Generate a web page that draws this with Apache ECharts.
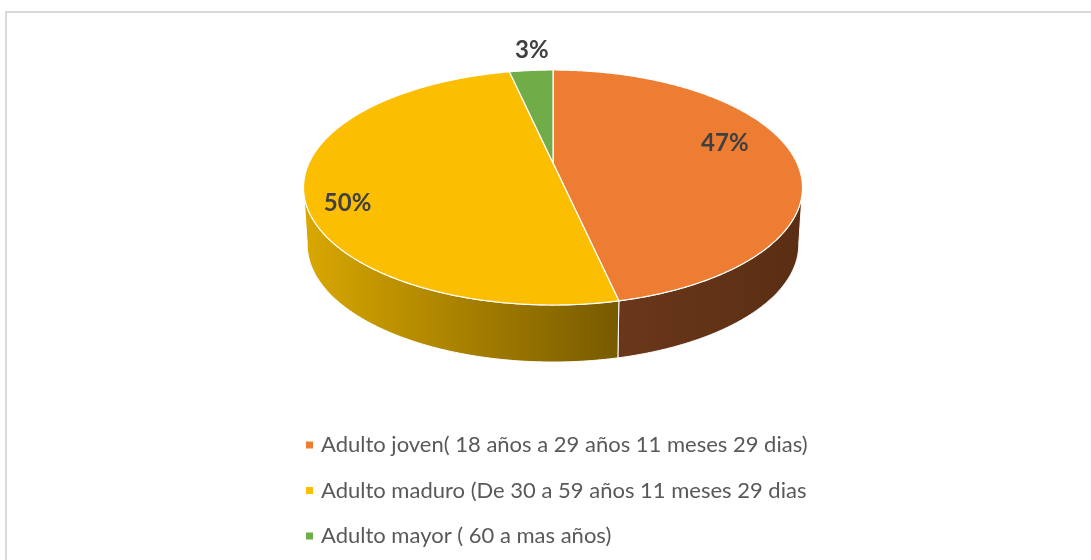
<!DOCTYPE html>
<html>
<head>
<meta charset="utf-8">
<script src="https://cdn.jsdelivr.net/npm/echarts@6/dist/echarts.min.js"></script>
<style>
  html, body { margin: 0; padding: 0; background: #fff; }
  #main { position: absolute; left: 0; top: 0; width: 1091px; height: 560px; }
  #frame {
    position: absolute; left: 5px; top: 11px; width: 1200px; height: 700px;
    border-left: 2px solid #d9d9d9; border-top: 2px solid #d9d9d9;
    pointer-events: none;
  }
</style>
</head>
<body>
<div id="main"></div>
<div id="frame"></div>
<script>
// categories and values (counts)
const categories = [
  'Adulto joven( 18 años a 29 años 11 meses 29 dias)',
  'Adulto maduro (De 30 a 59 años 11 meses 29 dias',
  'Adulto mayor ( 60 a mas años)'
];
const values = [27, 29, 2];

const topColors = ['#ec7d33', '#fbbe00', '#70ac47'];

// geometry of the tilted disc
const CX = 553, CY = 163;
const RX = 244, RY = 112.4, K = 0.2086;
const DEPTH = 57;

const total = values.reduce((a, b) => a + b, 0);
const starts = [];
let acc = 0;
values.forEach(v => { starts.push(acc / total * Math.PI * 2); acc += v; });

// point on the top face (yoff = 0) or bottom face (yoff = DEPTH)
function proj(t, r, yoff) {
  const s = Math.sin(t), c = Math.cos(t);
  const d = 1 + K * r * c;
  let x = RX * r * s / d;
  if (yoff) x *= 0.985;
  return [CX + x, CY + yoff - RY * r * c / d];
}

const VIS0 = Math.acos(-K), VIS1 = Math.PI * 2 - VIS0;

const sideFill = [
  new echarts.graphic.LinearGradient(0, 0, 1, 0, [
    { offset: 0, color: '#6a371a' }, { offset: 1, color: '#5a2e13' }
  ]),
  { type: 'linear', x: 306, y: 0, x2: 620, y2: 0, global: true,
    colorStops: [{ offset: 0, color: '#d8a700' }, { offset: 1, color: '#775a00' }] },
  '#3f6128'
];

const labelR = [0.72, 0.83, 1.25];
const labelNudge = [[0, -11], [0, 19], [5, -2]];

function makeRender(i) {
  return function (params, api) {
    const a = starts[i];
    const b = a + values[i] / total * Math.PI * 2;
    const children = [];
    const step = Math.PI / 360;

    // side wall
    const sa = Math.max(a, VIS0), sb = Math.min(b, VIS1);
    if (sb > sa) {
      const pts = [];
      for (let t = sa; t < sb; t += step) pts.push(proj(t, 1, 0));
      pts.push(proj(sb, 1, 0));
      for (let t = sb; t > sa; t -= step) pts.push(proj(t, 1, DEPTH));
      pts.push(proj(sa, 1, DEPTH));
      children.push({
        type: 'polygon', shape: { points: pts },
        style: { fill: sideFill[i], stroke: '#fff', lineWidth: 1 }
      });
    }

    // top face
    const top = [[CX, CY]];
    for (let t = a; t < b; t += step) top.push(proj(t, 1, 0));
    top.push(proj(b, 1, 0));
    children.push({
      type: 'polygon', shape: { points: top },
      style: { fill: topColors[i], stroke: '#fff', lineWidth: 1.2 }
    });

    // data label
    const mid = (a + b) / 2;
    const p = proj(mid, labelR[i], 0);
    children.push({
      type: 'text', z2: 10,
      style: {
        x: p[0] + labelNudge[i][0], y: p[1] + labelNudge[i][1],
        text: Math.round(values[i] / total * 100) + '%',
        fill: '#404040', font: 'bold 24px Lato',
        align: 'center', verticalAlign: 'middle'
      }
    });
    return { type: 'group', children: children };
  };
}

const chart = echarts.init(document.getElementById('main'));
chart.setOption({
  animation: false,
  legend: {
    orient: 'vertical',
    left: 301, top: 429,
    icon: 'rect', itemWidth: 7, itemHeight: 7,
    itemGap: 23.5,
    data: categories,
    textStyle: { color: '#595959', fontFamily: 'Lato', fontSize: 22, lineHeight: 22, padding: [0, 0, 0, 3] }
  },
  series: categories.map((name, i) => ({
    type: 'custom',
    name: name,
    coordinateSystem: 'none',
    itemStyle: { color: topColors[i] },
    renderItem: makeRender(i),
    data: [[values[i]]]
  }))
});
</script>
</body>
</html>
